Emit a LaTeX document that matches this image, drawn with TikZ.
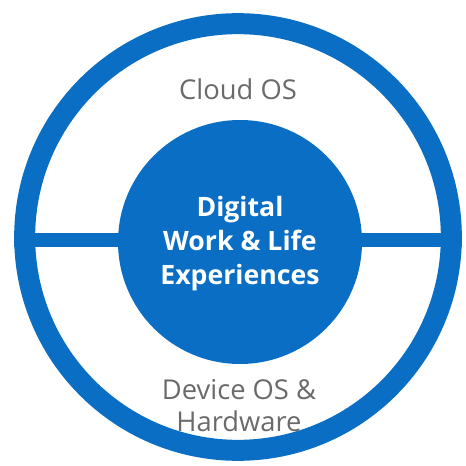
\documentclass[tikz,border=0pt]{standalone}
\usepackage{fontspec}
\setmainfont{Open Sans}
\usepackage{tikz}
\definecolor{msblue}{HTML}{0A6FC4}
\definecolor{labelgray}{HTML}{6A6A6A}
\tikzset{
  ringline/.style={circle,draw=msblue,line width=15.75pt,minimum size=320pt,inner sep=0pt},
  corebox/.style={circle,fill=msblue,minimum size=183pt,inner sep=0pt},
  barline/.style={draw=msblue,line width=10.5pt},
  layertext/.style={text=labelgray,font=\fontsize{20.5}{24}\selectfont,align=center},
  coretext/.style={text=white,font=\bfseries\fontsize{20}{25.5}\selectfont,align=center}
}

\begin{document}
\begin{tikzpicture}[x=0.75pt,y=-0.75pt]
\useasboundingbox (0,0) rectangle (465,466);
\node[ringline] (ring) at (238,237) {};
\coordinate (mid) at (240,240);
\draw[barline] (ring.west |- mid) -- (ring.east |- mid);
\node[corebox] (core) at (240,242) {};
\node[coretext] (coretxt) at (240,244) {Digital\\Work \& Life\\Experiences};
\node[layertext] (cloud) at (238,89) {Cloud OS};
\node[layertext] (device) at (239,406) {Device OS \&\\Hardware};
\end{tikzpicture}
\end{document}
